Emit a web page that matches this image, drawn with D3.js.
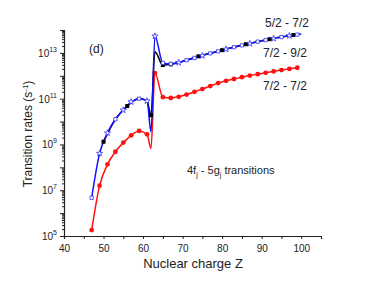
<!DOCTYPE html>
<html>
<head>
<meta charset="utf-8">
<script src="https://cdn.jsdelivr.net/npm/d3@7"></script>
<style>
  body { margin: 0; background: #fff; }
  text { font-family: "Liberation Sans", Arial, sans-serif; fill: #222; }
</style>
</head>
<body>
<div class="chart"></div>
<script>
const width = 374;
const height = 286;

// log10 of the transition rate against Z
const blueZ = [47, 49, 51, 53, 55, 57, 59, 61, 62, 63, 65, 67, 69, 71, 73, 75, 77, 79, 81, 83, 85, 87, 89, 91, 93, 95, 97, 99, 100]
const blueLog = [6.67, 8.61, 9.5, 10.1, 10.5, 10.86, 11.0, 10.9, 9.55, 13.73, 12.56, 12.52, 12.58, 12.68, 12.78, 12.88, 12.98, 13.07, 13.16, 13.25, 13.33, 13.41, 13.49, 13.56, 13.63, 13.69, 13.75, 13.8, 13.82]
const blueSymbol = ['square', 'star', 'star', 'square', 'star', 'star', 'square', 'star', null, 'star', 'square', 'square', 'star', 'square', 'square', 'star', 'square', 'square', 'star', 'square', 'square', 'star', 'square', 'square', 'star', 'square', 'star', 'square', null]

const blackZ = [50, 53, 56, 59, 61, 62, 63, 65, 67, 74, 80, 86, 92, 98]
const blackLog = [9.12, 10.1, 10.68, 11.0, 10.9, 10.28, 13.05, 12.47, 12.5, 12.85, 13.12, 13.38, 13.6, 13.78]
const blackMarked = [true, false, true, false, false, true, false, true, true, true, true, true, true, true]

const redZ = [47, 49, 51, 53, 55, 57, 59, 61, 62, 63, 65, 67, 69, 71, 73, 75, 77, 79, 81, 83, 85, 87, 89, 91, 93, 95, 97, 99]
const redLog = [5.26, 7.2, 8.13, 8.68, 9.08, 9.4, 9.59, 9.44, 8.83, 12.12, 11.07, 11.03, 11.08, 11.18, 11.3, 11.42, 11.55, 11.68, 11.78, 11.86, 11.94, 12.01, 12.07, 12.13, 12.19, 12.25, 12.3, 12.35]

const xTicks = [40, 50, 60, 70, 80, 90, 100]
const yLabelExp = [5, 7, 9, 11, 13]

const x = d3.scaleLinear().domain([40, 105]).range([64, 321])
const y = d3.scaleLog().domain([1e5, 1e14]).range([236, 30])

const svg = d3.select(".chart")
  .append("svg")
  .attr("width", width)
  .attr("height", height)

const toPts = (zs, logs) => zs.map((z, i) => ({z: z, v: Math.pow(10, logs[i]), i: i}))
const bluePts = toPts(blueZ, blueLog)
const blackPts = toPts(blackZ, blackLog)
const redPts = toPts(redZ, redLog)

const line = d3.line()
  .x(d => x(d.z))
  .y(d => y(d.v))
  .curve(d3.curveMonotoneX)

// axes
const xAxis = d3.axisBottom(x)
  .tickValues(d3.range(40, 106, 5))
  .tickSize(3)
  .tickFormat(d => xTicks.includes(d) ? d : '')

const gx = svg.append("g")
  .attr("transform", `translate(0,236)`)
  .call(xAxis)
gx.select(".domain").attr("stroke", "#222").attr("stroke-width", 1.2)
gx.selectAll(".tick line").attr("stroke", "#222")
gx.selectAll(".tick text")
  .attr("font-size", "10px")
  .attr("dy", "0.95em")

const minor = []
for (let e = 5; e < 14; e++) {
  for (let m = 1; m < 10; m++) minor.push(m * Math.pow(10, e))
}
minor.push(1e14)

const yAxis = d3.axisLeft(y)
  .tickValues(minor)
  .tickSize(2)
  .tickFormat('')

const gy = svg.append("g")
  .attr("transform", `translate(64,0)`)
  .call(yAxis)
gy.select(".domain").attr("stroke", "#222").attr("stroke-width", 1.2)
gy.selectAll(".tick line")
  .attr("stroke", "#222")
  .attr("x2", d => Math.abs(Math.log10(d) - Math.round(Math.log10(d))) < 1e-9 ? -4 : -2)

yLabelExp.forEach(e => {
  const t = svg.append("text")
    .attr("x", 57)
    .attr("y", y(Math.pow(10, e)) + 4)
    .attr("text-anchor", "end")
    .attr("font-size", "10px")
  t.append("tspan").text("10")
  t.append("tspan").attr("font-size", "7px").attr("dy", "-5").text(e)
})

// series
svg.append("path")
  .attr("d", line(redPts))
  .attr("fill", "none")
  .attr("stroke", "#ff1010")
  .attr("stroke-width", 1.5)

svg.append("g")
  .selectAll("circle")
  .data(redPts.filter(d => d.z !== 62))
  .join("circle")
  .attr("cx", d => x(d.z))
  .attr("cy", d => y(d.v))
  .attr("r", 2.4)
  .attr("fill", "#ff1010")

svg.append("path")
  .attr("d", line(blackPts))
  .attr("fill", "none")
  .attr("stroke", "#000")
  .attr("stroke-width", 1.5)

svg.append("path")
  .attr("d", line(bluePts))
  .attr("fill", "none")
  .attr("stroke", "#1010ff")
  .attr("stroke-width", 1.5)

svg.append("g")
  .selectAll("rect")
  .data(blackPts.filter(d => blackMarked[d.i]))
  .join("rect")
  .attr("x", d => x(d.z) - 2)
  .attr("y", d => y(d.v) - 2)
  .attr("width", 4)
  .attr("height", 4)
  .attr("fill", "#000")

const sq = d3.symbol().type(d3.symbolSquare).size(11)
const st = d3.symbol().type(d3.symbolStar).size(12)

svg.append("g")
  .selectAll("path")
  .data(bluePts.filter(d => blueSymbol[d.i]))
  .join("path")
  .attr("transform", d => `translate(${x(d.z)},${y(d.v)})`)
  .attr("d", d => blueSymbol[d.i] === 'square' ? sq() : st())
  .attr("fill", "#fff")
  .attr("stroke", "#3030ff")
  .attr("stroke-width", 0.8)

// labels
const label = (tx, ty, str, size) => svg.append("text")
  .attr("x", tx).attr("y", ty)
  .attr("font-size", size)
  .text(str)

label(265, 27, "5/2 - 7/2", "12px")
label(263, 57, "7/2 - 9/2", "12px")
label(263, 90, "7/2 - 7/2", "12px")
label(89, 53, "(d)", "12px")

const tr = svg.append("text")
  .attr("x", 187)
  .attr("y", 174)
  .attr("font-size", "11px")
tr.append("tspan").text("4f")
tr.append("tspan").attr("font-size", "7px").attr("dy", 3).text("j")
tr.append("tspan").attr("dy", -3).text(" - 5g")
tr.append("tspan").attr("font-size", "7px").attr("dy", 3).text("j")
tr.append("tspan").attr("dy", -3).text(" transitions")

svg.append("text")
  .attr("x", 193)
  .attr("y", 268)
  .attr("text-anchor", "middle")
  .attr("font-size", "13px")
  .text("Nuclear charge Z")

const yt = svg.append("text")
  .attr("transform", "translate(32,134) rotate(-90)")
  .attr("text-anchor", "middle")
  .attr("font-size", "12px")
yt.append("tspan").text("Transition rates (s")
yt.append("tspan").attr("font-size", "8px").attr("dy", -4).text("-1")
yt.append("tspan").attr("dy", 4).text(")")
</script>
</body>
</html>
